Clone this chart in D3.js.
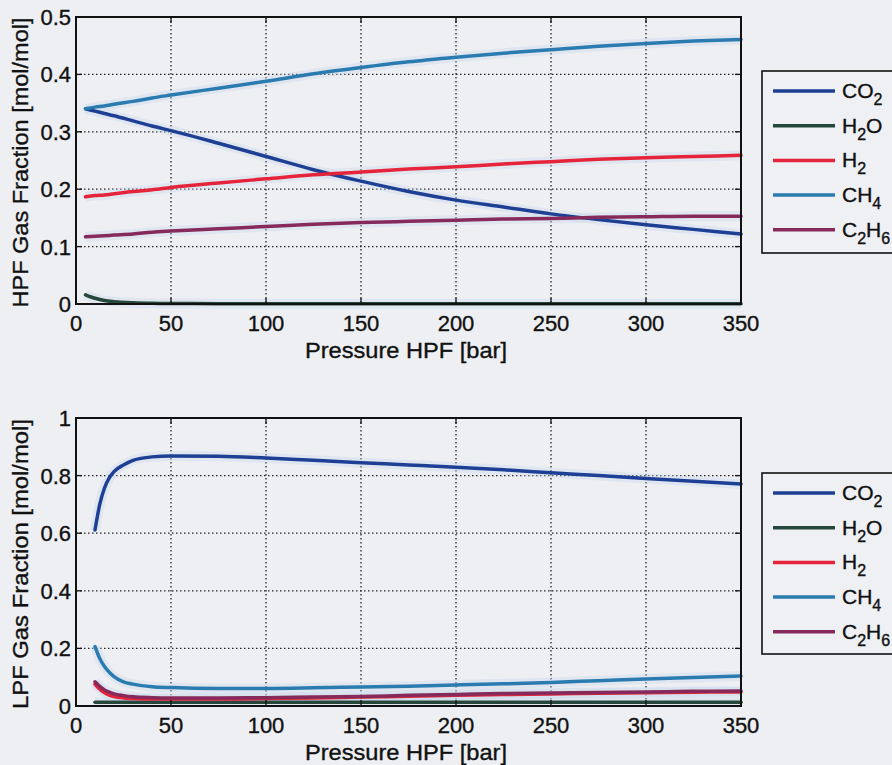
<!DOCTYPE html>
<html>
<head>
<meta charset="utf-8">
<script src="https://cdn.jsdelivr.net/npm/d3@7"></script>
<style>
  html, body { margin: 0; padding: 0; background: #edeff3; }
  svg { display: block; }
  text { font-family: "Liberation Sans", Arial, sans-serif; fill: #111; stroke: #111; stroke-width: 0.35; }
</style>
</head>
<body>
<svg id="chart" width="892" height="765"></svg>
<script>
// gas species, same order in both panels
const species = ["CO2", "H2O", "H2", "CH4", "C2H6"];
const colors = ["#1d3f94", "#25463a", "#e5243b", "#2a7bb0", "#862a5c"];

// upper panel: HPF composition vs HPF pressure
const hpfPressure = [5, 10, 15, 20, 30, 40, 50, 75, 100, 125, 150, 175, 200, 225, 250, 275, 300, 325, 350];
const hpfCO2  = [0.340, 0.336, 0.332, 0.328, 0.319, 0.310, 0.302, 0.280, 0.257, 0.234, 0.214, 0.196, 0.181, 0.169, 0.157, 0.147, 0.138, 0.130, 0.122];
const hpfH2O  = [0.016, 0.010, 0.006, 0.004, 0.002, 0.0012, 0.001, 0.0006, 0.0005, 0.0004, 0.0004, 0.0003, 0.0003, 0.0003, 0.0003, 0.0003, 0.0003, 0.0003, 0.0003];
const hpfH2   = [0.187, 0.189, 0.190, 0.192, 0.196, 0.199, 0.203, 0.211, 0.218, 0.225, 0.230, 0.235, 0.239, 0.244, 0.248, 0.252, 0.255, 0.257, 0.259];
const hpfCH4  = [0.340, 0.343, 0.345, 0.348, 0.353, 0.359, 0.364, 0.376, 0.388, 0.401, 0.412, 0.422, 0.430, 0.437, 0.443, 0.449, 0.454, 0.458, 0.461];
const hpfC2H6 = [0.117, 0.118, 0.119, 0.120, 0.122, 0.125, 0.127, 0.131, 0.135, 0.139, 0.142, 0.144, 0.146, 0.148, 0.149, 0.151, 0.152, 0.153, 0.153];

// lower panel: LPF composition vs HPF pressure
const lpfPressure = [10, 12.5, 15, 17.5, 20, 25, 30, 40, 50, 75, 100, 125, 150, 175, 200, 225, 250, 275, 300, 325, 350];
const lpfCO2  = [0.611, 0.700, 0.757, 0.792, 0.814, 0.837, 0.853, 0.865, 0.868, 0.867, 0.861, 0.853, 0.845, 0.837, 0.829, 0.820, 0.810, 0.800, 0.790, 0.780, 0.771];
const lpfH2O  = [0.013, 0.013, 0.013, 0.013, 0.013, 0.013, 0.013, 0.013, 0.013, 0.013, 0.013, 0.013, 0.013, 0.013, 0.013, 0.013, 0.013, 0.013, 0.013, 0.013, 0.013];
const lpfH2   = [0.075, 0.058, 0.046, 0.038, 0.033, 0.028, 0.026, 0.024, 0.024, 0.024, 0.026, 0.028, 0.031, 0.034, 0.037, 0.040, 0.042, 0.044, 0.046, 0.048, 0.049];
const lpfCH4  = [0.206, 0.165, 0.137, 0.117, 0.102, 0.084, 0.076, 0.067, 0.064, 0.061, 0.061, 0.063, 0.066, 0.069, 0.073, 0.077, 0.082, 0.088, 0.094, 0.099, 0.104];
const lpfC2H6 = [0.084, 0.068, 0.056, 0.048, 0.042, 0.036, 0.032, 0.029, 0.028, 0.028, 0.029, 0.031, 0.033, 0.037, 0.040, 0.043, 0.045, 0.047, 0.049, 0.051, 0.052];

const xTicks = [0, 50, 100, 150, 200, 250, 300, 350];
const hpfYTicks = [0, 0.1, 0.2, 0.3, 0.4, 0.5];
const lpfYTicks = [0, 0.2, 0.4, 0.6, 0.8, 1];

const svg = d3.select("#chart");

function drawPanel(opt) {
  const x = d3.scaleLinear().domain([0, 350]).range([76, 741]);
  const y = d3.scaleLinear().domain([0, opt.yMax]).range([opt.bottom, opt.top]);
  const g = svg.append("g");

  // dotted grid
  g.selectAll(".vgrid").data(xTicks.slice(1, -1)).enter().append("line")
    .attr("x1", d => x(d)).attr("x2", d => x(d))
    .attr("y1", opt.top).attr("y2", opt.bottom)
    .attr("stroke", "#222").attr("stroke-width", 1.3).attr("stroke-dasharray", "1.5,2.5");
  g.selectAll(".hgrid").data(opt.yTicks.slice(1, -1)).enter().append("line")
    .attr("x1", 76).attr("x2", 741)
    .attr("y1", d => y(d)).attr("y2", d => y(d))
    .attr("stroke", "#222").attr("stroke-width", 1.3).attr("stroke-dasharray", "1.5,2.5");

  // lines
  const line = d3.line()
    .x((d, i) => x(opt.pressure[i]))
    .y(d => y(d))
    .curve(d3.curveMonotoneX);

  // faint scan halo
  opt.series.forEach(s => {
    g.append("path").attr("d", line(s)).attr("fill", "none")
      .attr("stroke", "#c9d6ec").attr("stroke-width", 10).attr("opacity", 0.35);
  });
  opt.series.forEach((s, i) => {
    g.append("path").attr("d", line(s)).attr("fill", "none")
      .attr("stroke", colors[i]).attr("stroke-width", 3.5)
      .attr("stroke-linejoin", "round").attr("stroke-linecap", "round");
  });

  // inward ticks on all sides
  const tl = 6;
  xTicks.forEach(t => {
    g.append("line").attr("x1", x(t)).attr("x2", x(t)).attr("y1", opt.bottom).attr("y2", opt.bottom - tl).attr("stroke", "#111").attr("stroke-width", 1.3);
    g.append("line").attr("x1", x(t)).attr("x2", x(t)).attr("y1", opt.top).attr("y2", opt.top + tl).attr("stroke", "#111").attr("stroke-width", 1.3);
  });
  opt.yTicks.forEach(t => {
    g.append("line").attr("x1", 76).attr("x2", 76 + tl).attr("y1", y(t)).attr("y2", y(t)).attr("stroke", "#111").attr("stroke-width", 1.3);
    g.append("line").attr("x1", 741).attr("x2", 741 - tl).attr("y1", y(t)).attr("y2", y(t)).attr("stroke", "#111").attr("stroke-width", 1.3);
  });

  // box
  g.append("rect").attr("x", 76).attr("y", opt.top)
    .attr("width", 741 - 76).attr("height", opt.bottom - opt.top)
    .attr("fill", "none").attr("stroke", "#111").attr("stroke-width", 2);

  // tick labels
  g.selectAll(".xl").data(xTicks).enter().append("text")
    .attr("x", d => x(d)).attr("y", opt.bottom + 27)
    .attr("text-anchor", "middle").attr("font-size", 22)
    .text(d => d);
  g.selectAll(".yl").data(opt.yTicks).enter().append("text")
    .attr("x", 71).attr("y", d => y(d) + 8)
    .attr("text-anchor", "end").attr("font-size", 22)
    .text(d => d);

  // axis titles
  g.append("text")
    .attr("x", 406).attr("y", opt.bottom + 54)
    .attr("text-anchor", "middle").attr("font-size", 22)
    .attr("textLength", 202).attr("lengthAdjust", "spacingAndGlyphs")
    .text("Pressure HPF [bar]");
  g.append("text")
    .attr("transform", `translate(28,${(opt.top + opt.bottom) / 2 + 2}) rotate(-90)`)
    .attr("text-anchor", "middle").attr("font-size", 22)
    .attr("textLength", 290).attr("lengthAdjust", "spacingAndGlyphs")
    .text(opt.yLabel);

  // legend
  const lg = svg.append("g").attr("transform", `translate(762,${opt.legendTop})`);
  lg.append("rect").attr("x", 0).attr("y", 0).attr("width", 150).attr("height", opt.legendHeight)
    .attr("fill", "#eef0f4").attr("stroke", "#111").attr("stroke-width", 1.6);
  species.forEach((name, i) => {
    const yy = 20 + i * 34.7;
    lg.append("line").attr("x1", 11).attr("x2", 73).attr("y1", yy).attr("y2", yy)
      .attr("stroke", colors[i]).attr("stroke-width", 3.5);
    const t = lg.append("text").attr("x", 80).attr("y", yy + 7).attr("font-size", 21);
    name.split(/(\d+)/).filter(p => p.length).forEach(p => {
      if (/\d/.test(p)) {
        t.append("tspan").attr("font-size", 16).attr("dy", 7).text(p);
      } else {
        const sp = t.append("tspan").text(p);
        if (t.selectAll("tspan").size() > 1) sp.attr("dy", -7);
      }
    });
  });
}

drawPanel({
  top: 17, bottom: 304, yMax: 0.5, yTicks: hpfYTicks,
  pressure: hpfPressure,
  series: [hpfCO2, hpfH2O, hpfH2, hpfCH4, hpfC2H6],
  yLabel: "HPF Gas Fraction [mol/mol]",
  legendTop: 71, legendHeight: 182
});

drawPanel({
  top: 418, bottom: 706, yMax: 1, yTicks: lpfYTicks,
  pressure: lpfPressure,
  series: [lpfCO2, lpfH2O, lpfH2, lpfCH4, lpfC2H6],
  yLabel: "LPF Gas Fraction [mol/mol]",
  legendTop: 473, legendHeight: 181
});
</script>
</body>
</html>
